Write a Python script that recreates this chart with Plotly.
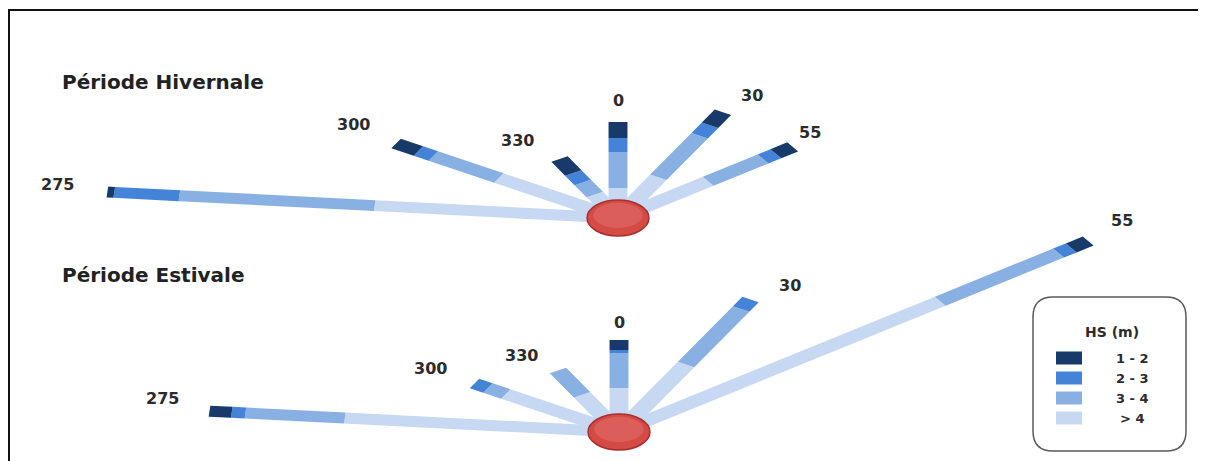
import numpy as np
import plotly.graph_objects as go

# ---------------- data ----------------
DIRECTIONS = [275, 300, 330, 0, 30, 55]
DIR_LABELS = ["275", "300", "330", "0", "30", "55"]
HS_CLASSES = ["1 - 2", "2 - 3", "3 - 4", "> 4"]

# segment lengths (arbitrary units), one value per direction
WINTER_GT4 = [142, 80, 27, 30, 47, 64]
WINTER_3_4 = [114, 44, 14, 36, 48, 39]
WINTER_2_3 = [38, 10, 11, 14, 12, 9]
WINTER_1_2 = [4, 15, 16, 16, 15, 12]

SUMMER_GT4 = [160, 76, 43, 44, 78, 228]
SUMMER_3_4 = [58, 12, 28, 35, 64, 84]
SUMMER_2_3 = [8, 9, 0, 3, 11, 9]
SUMMER_1_2 = [13, 0, 0, 10, 0, 12]

PANEL_TITLES = ["Période Hivernale", "Période Estivale"]
LEGEND_TITLE = "HS (m)"

# ---------------- layout / style ----------------
PAGE_W, PAGE_H = 1206, 461
BODY_MARGIN = 8                       # default page margin around the plot div
FIG_W = PAGE_W - BODY_MARGIN
FIG_H = PAGE_H - BODY_MARGIN
STRETCH = 1.72      # horizontal pixels per unit (picture is stretched)
BAR_W = 11
CENTERS = [(618, 218), (619, 432)]
CIRCLE_R = 18
COLORS = {"1 - 2": "#173A6B", "2 - 3": "#4483D8", "3 - 4": "#88B0E3", "> 4": "#C6D8F2"}
FONT = "DejaVu Sans"
# label offsets in pixels from the bar tip
LABEL_OFFSETS = [
    [(-50, -8), (-43, -19), (-42, -19), (0, -22), (29, -17), (17, -14)],
    [(-47, -13), (-44, -15), (-36, -15), (0, -18), (39, -14), (34, -21)],
]
TITLE_POS = [(60, 82), (60, 275)]

fig = go.Figure()


def seg_poly(c, theta, r0, r1):
    t = np.radians(theta)
    d = np.array([np.sin(t) * STRETCH, -np.cos(t)])
    n = np.array([np.cos(t) * STRETCH, np.sin(t)])
    hw = BAR_W / 2
    C = np.array(c, dtype=float)
    pts = [C + r0 * d - hw * n, C + r1 * d - hw * n, C + r1 * d + hw * n, C + r0 * d + hw * n]
    pts.append(pts[0])
    xs = [p[0] for p in pts]
    ys = [p[1] for p in pts]
    return xs, ys, C + r1 * d


panels = [
    [WINTER_GT4, WINTER_3_4, WINTER_2_3, WINTER_1_2],
    [SUMMER_GT4, SUMMER_3_4, SUMMER_2_3, SUMMER_1_2],
]
order = ["> 4", "3 - 4", "2 - 3", "1 - 2"]

annotations = []
shapes = []

for pi, series in enumerate(panels):
    c = CENTERS[pi]
    for di, theta in enumerate(DIRECTIONS):
        r = 0.0
        tip = None
        for cls, vals in zip(order, series):
            v = vals[di]
            xs, ys, tip_pt = seg_poly(c, theta, r, r + v)
            if v > 0:
                fig.add_trace(go.Scatter(
                    x=xs, y=ys, mode="lines", fill="toself",
                    fillcolor=COLORS[cls], line=dict(width=0, color=COLORS[cls]),
                    hoverinfo="text", text=f"{DIR_LABELS[di]} : {cls}",
                    showlegend=False))
            r += v
            tip = tip_pt
        ox, oy = LABEL_OFFSETS[pi][di]
        annotations.append(dict(
            x=tip[0], y=tip[1], xref="x", yref="y", text=f"<b>{DIR_LABELS[di]}</b>",
            showarrow=False, xshift=ox, yshift=-oy,
            font=dict(family=FONT, size=16, color="#2b2b2b")))
    # red circle
    cx, cy = c
    shapes.append(dict(type="circle", xref="x", yref="y", layer="above",
                       x0=cx - CIRCLE_R * STRETCH, x1=cx + CIRCLE_R * STRETCH,
                       y0=cy - CIRCLE_R, y1=cy + CIRCLE_R,
                       fillcolor="#D44A45", line=dict(color="#A8302C", width=1.5)))
    shapes.append(dict(type="circle", xref="x", yref="y", layer="above",
                       x0=cx - CIRCLE_R * 0.8 * STRETCH, x1=cx + CIRCLE_R * 0.8 * STRETCH,
                       y0=cy - CIRCLE_R * 0.85, y1=cy + CIRCLE_R * 0.55,
                       fillcolor="#E0706B", opacity=0.55, line=dict(width=0)))
    tx, ty = TITLE_POS[pi]
    annotations.append(dict(x=tx, y=ty, xref="x", yref="y", xanchor="left", yanchor="middle",
                            text=f"<b>{PANEL_TITLES[pi]}</b>", showarrow=False,
                            font=dict(family=FONT, size=20, color="#222222")))

# frame lines (top and left)
shapes.append(dict(type="line", xref="x", yref="y", x0=8, x1=PAGE_W, y0=10, y1=10,
                   line=dict(color="#111111", width=2)))
shapes.append(dict(type="line", xref="x", yref="y", x0=9, x1=9, y0=10, y1=PAGE_H,
                   line=dict(color="#111111", width=2)))

# legend box
x0, x1, y0, y1, rr = 1033, 1186, 297, 451, 20
path = (f"M {x0+rr},{y0} L {x1-rr},{y0} Q {x1},{y0} {x1},{y0+rr} L {x1},{y1-rr} "
        f"Q {x1},{y1} {x1-rr},{y1} L {x0+rr},{y1} Q {x0},{y1} {x0},{y1-rr} "
        f"L {x0},{y0+rr} Q {x0},{y0} {x0+rr},{y0} Z")
shapes.append(dict(type="path", path=path, xref="x", yref="y", layer="above",
                   line=dict(color="#5a5a5a", width=1.5), fillcolor="rgba(255,255,255,0)"))
annotations.append(dict(x=1112, y=332, xref="x", yref="y", text=f"<b>{LEGEND_TITLE}</b>",
                        showarrow=False, font=dict(family=FONT, size=14, color="#2b2b2b")))
row_y = [358, 378, 398, 418]
for cls, yy in zip(HS_CLASSES, row_y):
    shapes.append(dict(type="rect", xref="x", yref="y", x0=1056, x1=1082,
                       y0=yy - 6.5, y1=yy + 6.5, fillcolor=COLORS[cls], line=dict(width=0)))
    annotations.append(dict(x=1132, y=yy, xref="x", yref="y", text=f"<b>{cls}</b>",
                            showarrow=False, font=dict(family=FONT, size=13, color="#2b2b2b")))

fig.update_layout(
    width=FIG_W, height=FIG_H, margin=dict(l=0, r=0, t=0, b=0),
    paper_bgcolor="white", plot_bgcolor="white",
    xaxis=dict(range=[BODY_MARGIN, BODY_MARGIN + FIG_W], visible=False, fixedrange=True),
    yaxis=dict(range=[BODY_MARGIN + FIG_H, BODY_MARGIN], visible=False, fixedrange=True),
    shapes=shapes, annotations=annotations, showlegend=False,
)

fig.write_html("out.html")
